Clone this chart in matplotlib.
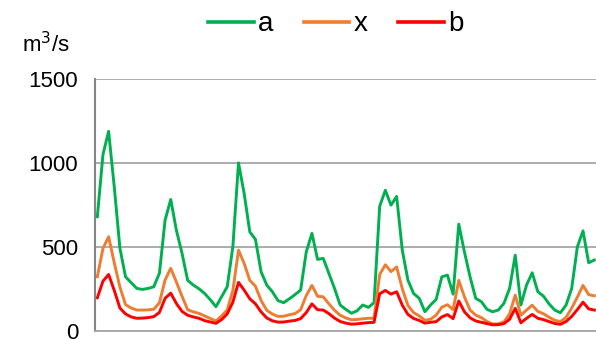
import matplotlib
matplotlib.use("Agg")
import matplotlib.pyplot as plt

plt.rcParams['font.family'] = ['Liberation Sans', 'DejaVu Sans']

# values (m3/s), one per period
a = [679, 1050, 1188, 857, 492, 321, 286, 252, 246, 252,
     262, 343, 659, 782, 599, 461, 300, 272, 250, 222,
     185, 143, 202, 262, 500, 1000, 818, 589, 544, 351,
     272, 232, 179, 167, 190, 215, 242, 470, 580, 425,
     431, 342, 252, 153, 127, 104, 119, 153, 139, 167,
     742, 837, 748, 800, 480, 301, 222, 193, 113, 153,
     187, 321, 331, 218, 635, 470, 321, 193, 173, 127,
     113, 123, 163, 252, 450, 153, 272, 345, 232, 206,
     159, 123, 107, 153, 252, 500, 595, 405, 421]
x = [321, 490, 560, 405, 260, 155, 135, 123, 123, 124,
     128, 167, 302, 372, 290, 205, 125, 112, 103, 88,
     73, 58, 88, 123, 240, 480, 401, 300, 265, 180,
     122, 99, 85, 86, 95, 102, 125, 210, 270, 205,
     202, 160, 122, 92, 76, 65, 67, 71, 74, 74,
     335, 393, 352, 380, 250, 150, 108, 88, 62, 68,
     93, 140, 155, 125, 300, 202, 123, 93, 78, 55,
     40, 41, 52, 100, 212, 92, 123, 152, 115, 101,
     80, 62, 54, 80, 135, 200, 270, 215, 208]
b = [196, 295, 335, 240, 135, 100, 82, 74, 75, 78,
     84, 109, 193, 224, 162, 115, 92, 82, 74, 60,
     52, 44, 66, 100, 170, 288, 242, 190, 160, 112,
     76, 59, 51, 52, 57, 61, 72, 108, 160, 125,
     123, 102, 75, 55, 45, 39, 41, 45, 48, 50,
     220, 240, 218, 232, 152, 97, 73, 61, 45, 50,
     54, 82, 96, 72, 177, 113, 77, 58, 50, 42,
     35, 36, 42, 68, 133, 47, 74, 97, 74, 66,
     54, 43, 38, 55, 85, 126, 170, 130, 123]

names = ['a', 'x', 'b']
colors = ['#00B050', '#ED7D31', '#FF0000']

fig = plt.figure(figsize=(5.96, 3.39), dpi=100)
ax = fig.add_axes([95 / 596, 8.3 / 339, 501 / 596, 251.7 / 339])

idx = range(len(a))
for vals, name, col in zip([a, x, b], names, colors):
    ax.plot(idx, vals, color=col, linewidth=2.1, label=name)

ax.set_ylim(0, 1500)
ax.set_xlim(-0.41, len(a) - 1 + 0.3)
ax.set_yticks([0, 500, 1000, 1500])
ax.set_xticks([])
ax.tick_params(axis='y', length=0, pad=12, labelsize=16)
ax.yaxis.grid(True, color='#a6a6a6', linewidth=1.3)
ax.set_axisbelow(True)
for s in ['top', 'right']:
    ax.spines[s].set_visible(False)
ax.spines['left'].set_color('#868686')
ax.spines['left'].set_linewidth(1.5)
ax.spines['bottom'].set_color('#a6a6a6')
ax.spines['bottom'].set_linewidth(1.3)

fig.text(22 / 596, 1 - 45 / 339, 'm$^3$/s', fontsize=16, va='center', ha='left')

fig.legend(loc='center', bbox_to_anchor=(0.563, 0.928), ncol=3, frameon=False,
           fontsize=20, handlelength=1.65, handletextpad=0.15, columnspacing=1.1)
for line in fig.legends[0].get_lines():
    line.set_linewidth(2.6)

fig.savefig('out.png', dpi=100)
